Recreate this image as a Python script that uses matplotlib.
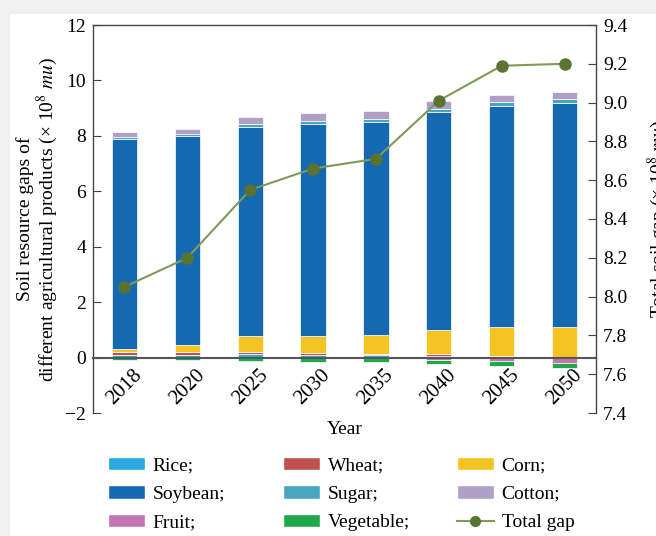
import matplotlib
matplotlib.use("Agg")
import matplotlib.pyplot as plt
from matplotlib.patches import Rectangle, Patch
from matplotlib.lines import Line2D
import numpy as np

plt.rcParams['font.family'] = ['Liberation Serif', 'DejaVu Serif']
plt.rcParams['mathtext.fontset'] = 'stix'
plt.rcParams['font.size'] = 14

years = ['2018', '2020', '2025', '2030', '2035', '2040', '2045', '2050']

# soil resource gaps (x 10^8 mu), positive parts stacked upward
rice = [0.08, 0.08, 0.12, 0.10, 0.09, 0.05, 0.02, 0.01]
wheat = [0.12, 0.12, 0.08, 0.05, 0.05, 0.07, 0.05, 0.02]
corn = [0.10, 0.24, 0.57, 0.64, 0.68, 0.88, 1.02, 1.06]
soybean = [7.59, 7.57, 7.54, 7.65, 7.68, 7.85, 8.00, 8.09]
sugar = [0.06, 0.06, 0.12, 0.11, 0.10, 0.12, 0.12, 0.14]
cotton = [0.18, 0.19, 0.26, 0.26, 0.28, 0.28, 0.28, 0.25]
# negative parts stacked downward
fruit = [-0.02, -0.02, -0.02, -0.03, -0.03, -0.08, -0.12, -0.19]
vegetable = [-0.06, -0.06, -0.10, -0.12, -0.13, -0.14, -0.17, -0.20]

total_gap = [8.05, 8.20, 8.55, 8.66, 8.71, 9.01, 9.19, 9.20]

colors = {
    'Rice': '#27a8e0',
    'Wheat': '#c0504d',
    'Corn': '#f5c423',
    'Soybean': '#1569b2',
    'Sugar': '#4aa6c0',
    'Cotton': '#b09fc7',
    'Fruit': '#bf76b3',
    'Vegetable': '#22a64c',
}
line_color = '#7f9a58'
marker_color = '#5a7330'
spine_color = '#444444'

fig = plt.figure(figsize=(6.56, 5.36), dpi=100, facecolor='#f0f0f0')
fig.patches.append(Rectangle((10 / 656, 0), 1, 1 - 14 / 536, transform=fig.transFigure,
                             facecolor='white', edgecolor='none', zorder=-10))

ax = fig.add_axes([93 / 656, 1 - 413 / 536, 503 / 656, 388 / 536])
ax.set_facecolor('none')
x = np.arange(len(years))
w = 0.4

bottom = np.zeros(len(years))
for name, vals in [('Rice', rice), ('Wheat', wheat), ('Corn', corn), ('Soybean', soybean),
                   ('Sugar', sugar), ('Cotton', cotton)]:
    ax.bar(x, vals, w, bottom=bottom, color=colors[name], edgecolor='white', linewidth=0.5, zorder=2)
    bottom += np.array(vals)

neg = np.zeros(len(years))
for name, vals in [('Fruit', fruit), ('Vegetable', vegetable)]:
    ax.bar(x, vals, w, bottom=neg, color=colors[name], edgecolor='white', linewidth=0.5, zorder=2)
    neg += np.array(vals)

# zero line acts as the x axis
ax.spines['bottom'].set_position(('data', 0))
ax.spines['bottom'].set_color('#555555')
ax.spines['bottom'].set_linewidth(1.5)
ax.spines['bottom'].set_zorder(3)
ax.spines['right'].set_visible(False)
for s in ['left', 'top']:
    ax.spines[s].set_color(spine_color)
    ax.spines[s].set_linewidth(1.0)

ax.set_xlim(-0.5, len(years) - 0.5)
ax.set_ylim(-2, 12)
ax.set_yticks(np.arange(-2, 13, 2))
ax.set_xticks(x)
ax.set_xticklabels(years)
ax.tick_params(axis='x', length=0, pad=6, labelrotation=45, labelsize=15)
for lbl in ax.get_xticklabels():
    lbl.set_horizontalalignment('center')
ax.tick_params(axis='y', direction='in', length=6, color=spine_color, pad=5)

ax.set_xlabel('Year')
ax.xaxis.set_label_coords(0.5, -0.02)
ax.set_ylabel('Soil resource gaps of\ndifferent agricultural products (× 10$^8$ $mu$)',
              linespacing=1.0)

ax2 = ax.twinx()
ax2.plot(x, total_gap, color=line_color, linewidth=1.5, marker='o', markersize=8,
         markerfacecolor=marker_color, markeredgecolor=marker_color, zorder=4)
ax2.set_ylim(7.4, 9.4)
ax2.set_yticks(np.arange(7.4, 9.41, 0.2))
ax2.set_yticklabels([f'{v:.1f}' for v in np.arange(7.4, 9.41, 0.2)])
ax2.tick_params(axis='y', direction='in', length=6, color=spine_color, pad=5)
for s in ['left', 'top', 'bottom']:
    ax2.spines[s].set_visible(False)
ax2.spines['right'].set_color(spine_color)
ax2.spines['right'].set_linewidth(1.0)
ax2.set_ylabel('Total soil gap (× 10$^8$ $mu$)', labelpad=13)


# legend: one column each, rows read left to right
def patch(name):
    return Patch(facecolor=colors[name], edgecolor='white', label=name + ';')


columns = [
    [patch('Rice'), patch('Soybean'), patch('Fruit')],
    [patch('Wheat'), patch('Sugar'), patch('Vegetable')],
    [patch('Corn'), patch('Cotton'),
     Line2D([0], [0], color=line_color, linewidth=1.5, marker='o', markersize=7,
            markerfacecolor=marker_color, markeredgecolor=marker_color, label='Total gap')],
]
col_x = [108, 283, 457]
for hs, cx in zip(columns, col_x):
    leg = fig.legend(handles=hs, loc='center left', bbox_to_anchor=(cx / 656, 1 - 494 / 536),
                     frameon=False, handlelength=1.9, handleheight=0.7, handletextpad=0.4,
                     labelspacing=0.56, borderpad=0, borderaxespad=0, fontsize=14)

fig.savefig('out.png', dpi=100, facecolor=fig.get_facecolor())
